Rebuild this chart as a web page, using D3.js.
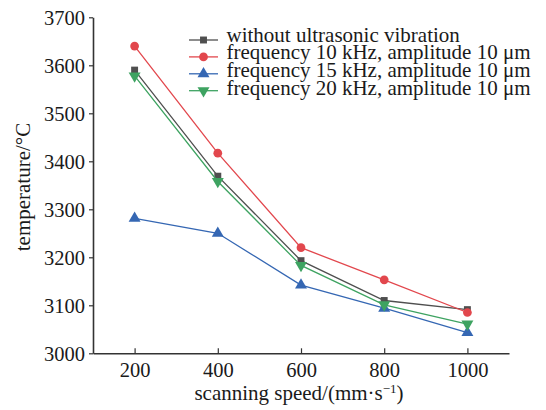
<!DOCTYPE html>
<html>
<head>
<meta charset="utf-8">
<script src="https://cdn.jsdelivr.net/npm/d3@7"></script>
<style>
  body { margin: 0; background: #fff; }
  svg text { font-family: "Liberation Serif", "Times New Roman", serif; fill: #1a1a1a; }
</style>
</head>
<body>
<div id="chart"></div>
<script>
// scanning speed (mm/s)
const speeds = [200, 400, 600, 800, 1000];
const seriesNames = [
  "without ultrasonic vibration",
  "frequency 10 kHz, amplitude 10 \u03bcm",
  "frequency 15 kHz, amplitude 10 \u03bcm",
  "frequency 20 kHz, amplitude 10 \u03bcm"
];
const noVibration = [3590, 3369, 3193, 3110, 3091];
const freq10 = [3640, 3417, 3220, 3153, 3085];
const freq15 = [3281, 3250, 3142, 3094, 3043];
const freq20 = [3578, 3358, 3183, 3101, 3061];
const xTicks = [200, 400, 600, 800, 1000];
const yTicks = [3000, 3100, 3200, 3300, 3400, 3500, 3600, 3700];

const colors = ["#4f4f4f", "#e2474d", "#3567b3", "#3ea361"];
const symbols = [d3.symbolSquare, d3.symbolCircle, d3.symbolTriangle, d3.symbolTriangle];
const symbolSizes = [48, 60, 62, 62];
const flips = [false, false, false, true];

const allSeries = [noVibration, freq10, freq15, freq20];

const width = 546, height = 410;
const margin = {top: 17.3, left: 93, right: 37, bottom: 56.7};
const innerW = width - margin.left - margin.right;
const innerH = height - margin.top - margin.bottom;

const svg = d3.select("#chart").append("svg")
  .attr("width", width)
  .attr("height", height);

const g = svg.append("g")
  .attr("transform", `translate(${margin.left},${margin.top})`);

const x = d3.scaleLinear().domain([100, 1100]).range([0, innerW]);
const y = d3.scaleLinear().domain([3000, 3700]).range([innerH, 0]);

// x axis, ticks pointing into the plot
const xAxis = g.append("g")
  .attr("transform", `translate(0,${innerH})`)
  .call(d3.axisBottom(x).tickValues(xTicks).tickFormat(d3.format("d"))
    .tickSizeInner(-5).tickSizeOuter(0).tickPadding(9));

// y axis, ticks outward
const yAxis = g.append("g")
  .call(d3.axisLeft(y).tickValues(yTicks).tickFormat(d3.format("d"))
    .tickSizeInner(4).tickSizeOuter(0).tickPadding(4));

[xAxis, yAxis].forEach(ax => {
  ax.attr("font-family", null).attr("font-size", null);
  ax.select(".domain").attr("stroke", "#333").attr("stroke-width", 1.6);
  ax.selectAll(".tick line").attr("stroke", "#333").attr("stroke-width", 1.2);
  ax.selectAll(".tick text")
    .style("font-family", "'Liberation Serif', 'Times New Roman', serif")
    .style("font-size", "20.5px")
    .attr("fill", "#1a1a1a");
});
xAxis.selectAll(".tick text").attr("dy", "0.71em");
yAxis.selectAll(".tick text").attr("dy", "0.34em");

// axis titles
svg.append("text")
  .attr("x", 299)
  .attr("y", 400)
  .attr("text-anchor", "middle")
  .attr("font-size", 21)
  .html("scanning speed/(mm\u00b7s<tspan dy='-7' font-size='13'>\u22121</tspan><tspan dy='7'>)</tspan>");

svg.append("text")
  .attr("transform", "translate(30,187) rotate(-90)")
  .attr("text-anchor", "middle")
  .attr("font-size", 21)
  .text("temperature/\u00b0C");

// lines and markers
const line = d3.line()
  .x((d, i) => x(speeds[i]))
  .y(d => y(d));

allSeries.forEach((vals, s) => {
  g.append("path")
    .datum(vals)
    .attr("fill", "none")
    .attr("stroke", colors[s])
    .attr("stroke-width", 1.3)
    .attr("d", line);

  g.selectAll(null)
    .data(vals)
    .enter()
    .append("path")
    .attr("d", d3.symbol().type(symbols[s]).size(symbolSizes[s]))
    .attr("transform", (d, i) => `translate(${x(speeds[i])},${y(d)})` + (flips[s] ? " rotate(180)" : ""))
    .attr("fill", colors[s]);
});

// legend
const legend = svg.append("g");
seriesNames.forEach((name, s) => {
  const ly = 40 + s * 16.9;
  legend.append("line")
    .attr("x1", 189).attr("x2", 218)
    .attr("y1", ly).attr("y2", ly)
    .attr("stroke", colors[s])
    .attr("stroke-width", 1.3);
  legend.append("path")
    .attr("d", d3.symbol().type(symbols[s]).size(symbolSizes[s]))
    .attr("transform", `translate(203.5,${ly})` + (flips[s] ? " rotate(180)" : ""))
    .attr("fill", colors[s]);
  legend.append("text")
    .attr("x", 226.5)
    .attr("y", 41.7 + s * 17.7)
    .attr("font-size", 21)
    .text(name);
});
</script>
</body>
</html>
